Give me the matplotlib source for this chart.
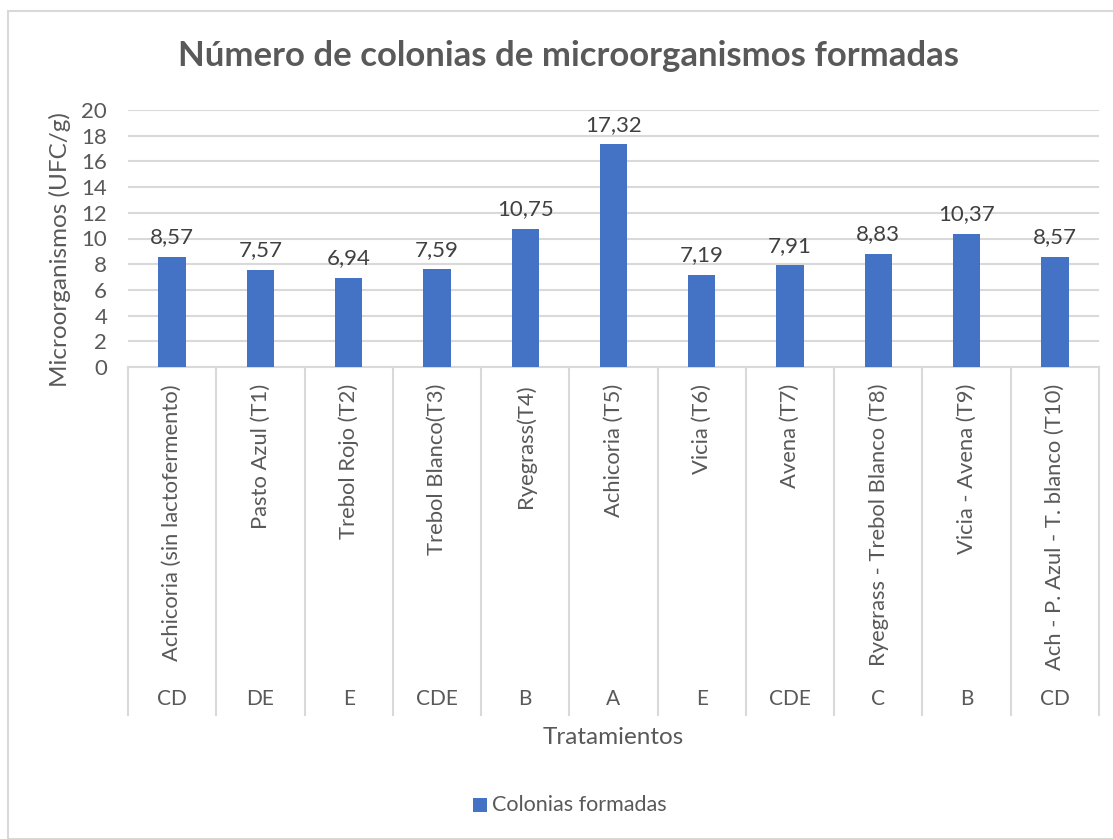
import matplotlib
matplotlib.use("Agg")
import matplotlib.pyplot as plt
from matplotlib.patches import Rectangle
import matplotlib.transforms as mtransforms

categories = ["Achicoria (sin lactofermento)", "Pasto Azul (T1)", "Trebol Rojo (T2)",
              "Trebol Blanco(T3)", "Ryegrass(T4)", "Achicoria (T5)", "Vicia (T6)",
              "Avena (T7)", "Ryegrass - Trebol Blanco (T8)", "Vicia - Avena (T9)",
              "Ach - P. Azul - T. blanco (T10)"]
groups = ["CD", "DE", "E", "CDE", "B", "A", "E", "CDE", "C", "B", "CD"]
values = [8.57, 7.57, 6.94, 7.59, 10.75, 17.32, 7.19, 7.91, 8.83, 10.37, 8.57]
yticks = [0, 2, 4, 6, 8, 10, 12, 14, 16, 18, 20]

plt.rcParams['font.family'] = ['Lato', 'DejaVu Sans']
TXT = "#595959"
GRID = "#d9d9d9"
BAR = "#4472C4"

W, H = 1113, 839
fig = plt.figure(figsize=(W / 100, H / 100), dpi=100)

# outer chart frame
fig.patches.append(Rectangle((8 / W, 0), 1.2, (H - 11) / H, transform=fig.transFigure,
                             fill=False, edgecolor=GRID, linewidth=1.5))

x0, x1, y0, y1 = 128, 1099, 367, 110
ax = fig.add_axes([x0 / W, (H - y0) / H, (x1 - x0) / W, (y0 - y1) / H])

n = len(values)
xs = list(range(n))
ax.bar(xs, values, width=0.31, color=BAR, zorder=3)
ax.set_xlim(-0.5, n - 0.5)
ax.set_ylim(0, 20)
ax.set_yticks(yticks)
ax.set_yticklabels([str(t) for t in yticks], fontsize=16, color=TXT)
ax.tick_params(axis='y', length=0, pad=15)
ax.set_xticks([])
ax.grid(axis='y', color=GRID, linewidth=1.5, zorder=0)
for s in ["top", "right", "left"]:
    ax.spines[s].set_visible(False)
ax.spines["bottom"].set_color(GRID)
ax.spines["bottom"].set_linewidth(1.5)

for x, v in zip(xs, values):
    ax.annotate(f"{v:.2f}".replace(".", ","), (x, v), xytext=(0, 7),
                textcoords="offset points", ha="center", va="bottom",
                fontsize=16, color="#404040")

trans = mtransforms.blended_transform_factory(ax.transData, ax.transAxes)
axh = y0 - y1
def yfrac(py):
    return (y0 - py) / axh

for i in range(n + 1):
    ax.plot([i - 0.5, i - 0.5], [0, yfrac(715)], transform=trans, color=GRID,
            linewidth=1.5, clip_on=False)

for x, c, g in zip(xs, categories, groups):
    ax.text(x, yfrac(384), c, transform=trans, rotation=90, ha="center", va="top",
            fontsize=15.8, color=TXT, rotation_mode="default")
    ax.text(x, yfrac(699), g, transform=trans, ha="center", va="center",
            fontsize=15, color=TXT)

fig.text(60 / W, (H - 250) / H, "Microorganismos (UFC/g)", rotation=90, ha="center",
         va="center", fontsize=17.5, color=TXT)
fig.text((x0 + x1) / 2 / W, (H - 737) / H, "Tratamientos", ha="center", va="center",
         fontsize=17.5, color=TXT)
fig.text(568 / W, (H - 56) / H, "Número de colonias de microorganismos formadas",
         ha="center", va="center", fontsize=25, fontweight="bold", color=TXT)

# legend
fig.patches.append(Rectangle((473 / W, (H - 812) / H), 14 / W, 14 / H,
                             transform=fig.transFigure, facecolor=BAR, edgecolor="none"))
fig.text(492 / W, (H - 805) / H, "Colonias formadas", ha="left", va="center",
         fontsize=15.5, color=TXT)

fig.savefig("out.png", dpi=100)
